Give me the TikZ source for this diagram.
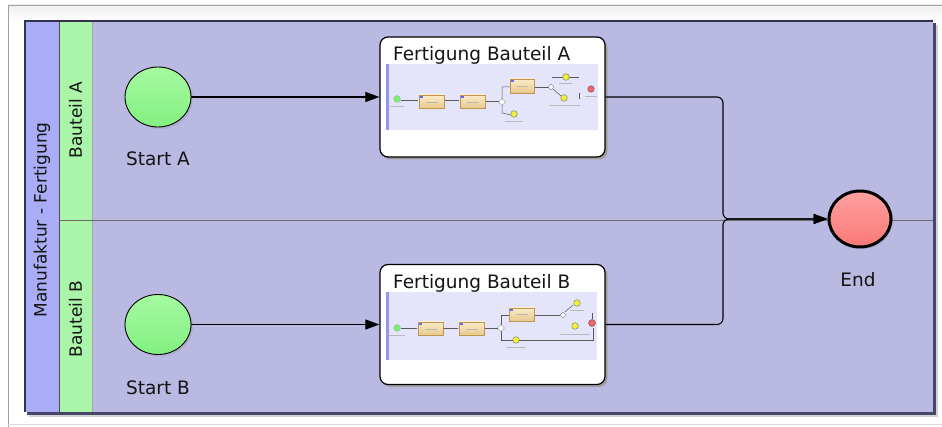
\documentclass[tikz,border=0pt]{standalone}
\usepackage{fontspec}
\setmainfont{DejaVu Sans}
\usetikzlibrary{arrows.meta,shapes.geometric,shadows}
\definecolor{poolband}{RGB}{170,172,245}
\definecolor{laneband}{RGB}{170,245,170}
\definecolor{mainfill}{RGB}{185,185,226}
\definecolor{poolline}{RGB}{50,50,80}
\definecolor{poolshadow}{RGB}{70,70,105}
\definecolor{startfillA}{RGB}{165,250,160}
\definecolor{startfillB}{RGB}{130,240,130}
\definecolor{endfillA}{RGB}{255,160,160}
\definecolor{endfillB}{RGB}{250,120,120}
\definecolor{thumbfill}{RGB}{228,228,250}
\definecolor{thumbstrip}{RGB}{150,150,235}
\definecolor{taskA}{RGB}{252,236,200}
\definecolor{taskB}{RGB}{232,200,140}
\definecolor{taskline}{RGB}{190,150,80}
\definecolor{tinyyellow}{RGB}{240,240,60}
\definecolor{tinyred}{RGB}{240,100,100}
\definecolor{tinygreen}{RGB}{120,235,120}
\begin{document}
\begin{tikzpicture}[x=1pt,y=-1pt,
  lbl/.style={font=\fontsize{18.5}{22}\selectfont, text=black!92, inner sep=0pt},
  lanelbl/.style={font=\fontsize{17}{20}\selectfont, text=black!92, inner sep=0pt, rotate=90},
  startev/.style={ellipse, draw=black, line width=0.9pt, minimum width=66pt, minimum height=60pt, inner sep=0pt,
    top color=startfillA, bottom color=startfillB,
    drop shadow={shadow xshift=2pt, shadow yshift=-2pt, opacity=0.18}},
  endev/.style={ellipse, draw=black, line width=3pt, minimum width=62pt, minimum height=56pt, inner sep=0pt,
    top color=endfillA, bottom color=endfillB,
    drop shadow={shadow xshift=2pt, shadow yshift=-2pt, opacity=0.18}},
  subproc/.style={rectangle, rounded corners=8pt, draw=black, line width=1.2pt, fill=white,
    minimum width=225pt, minimum height=120pt, inner sep=0pt,
    drop shadow={shadow xshift=2.5pt, shadow yshift=-2.5pt, fill=gray!75, opacity=1}},
  flow/.style={draw=black, line width=1.1pt, -{Triangle[length=14pt,width=10pt]}},
  ttask/.style={draw=taskline, line width=0.4pt, top color=taskA, bottom color=taskB},
  tline/.style={draw=gray!70!black, line width=0.5pt},
  tyellow/.style={fill=tinyyellow, draw=gray!60!black, line width=0.3pt},
  tred/.style={fill=tinyred, draw=gray!60!black, line width=0.3pt},
  tgreen/.style={fill=tinygreen, draw=gray!60, line width=0.3pt},
  tgate/.style={fill=white, draw=gray!60!black, line width=0.3pt},
  tlabel/.style={draw=gray!55, line width=0.6pt},
]
\useasboundingbox (0,0) rectangle (942,427);
% outer panel
\fill[white] (0,0) rectangle (942,427);
\shade[top color=gray!12, bottom color=white] (8,5) rectangle (942,22);
\draw[gray!75, line width=0.8pt] (8,427) -- (8,5) -- (942,5);
\draw[gray!30, line width=0.8pt] (8,424) -- (942,424);

% pool shadow and body
\fill[gray!35] (29,25) rectangle (938,417);
\fill[poolshadow] (27,23) rectangle (935.5,414.5);
\fill[mainfill] (25,21) rectangle (933,412);
\fill[poolband] (25,21) rectangle (59,412);
\fill[laneband] (59,21) rectangle (92,412);
\draw[gray!70, line width=0.6pt] (92,21) -- (92,412);
\draw[gray!60!black, line width=0.6pt] (59,21) -- (59,412);
\draw[gray!85!black, line width=0.8pt] (59,220) -- (933,220);
\draw[poolline, line width=1.6pt] (25,412) -- (25,21) -- (933,21);

% labels of pool and lanes
\node[lanelbl] (pool) at (42,220) {Manufaktur - Fertigung};
\node[lanelbl] (laneA) at (75.5,120) {Bauteil A};
\node[lanelbl] (laneB) at (75.5,319) {Bauteil B};

% events
\node[startev] (startA) at (158,97) {};
\node[lbl, anchor=base] (startAl) at (158,166) {Start A};
\node[startev] (startB) at (158,324.5) {};
\node[lbl, anchor=base] (startBl) at (158,394) {Start B};
\node[endev] (end) at (860,219) {};
\node[lbl, anchor=base] (endl) at (858,287) {End};

% sub-processes
\node[subproc] (boxA) at (492.5,97) {};
\node[lbl, anchor=base west] (titleA) at (393,61) {Fertigung Bauteil A};
\node[subproc] (boxB) at (492.5,324.5) {};
\node[lbl, anchor=base west] (titleB) at (393,289) {Fertigung Bauteil B};

% thumbnail A
\fill[thumbfill] (386,64) rectangle (598,130);
\fill[thumbstrip] (386,64) rectangle (389,130);
\draw[tline] (401,100) -- (418,100);
\draw[tline] (444,100) -- (459,100);
\draw[tline] (485,101) -- (499,101);
\draw[tline] (510,87) -- (502,87) -- (502,113) -- (511,115);
\draw[tline] (534,87) -- (549,87);
\draw[tline] (552,77) -- (579,77);
\draw[tline] (553,89) -- (561,96);
\draw[tline] (579,93) -- (579,99);
\draw[ttask] (419,95) rectangle (444,108);
\draw[ttask] (460,95) rectangle (485,108);
\draw[ttask] (510,79) rectangle (534,93);
\fill[blue!60] (420,96) rectangle (422.5,98);
\fill[blue!60] (461,96) rectangle (463.5,98);
\fill[blue!60] (511,80) rectangle (513.5,82);
\draw[tgate] (502,98.5) -- (505.5,102) -- (502,105.5) -- (498.5,102) -- cycle;
\draw[tgate] (551,84) -- (554,87) -- (551,90) -- (548,87) -- cycle;
\draw[tgreen] (397,99) circle (3.5pt);
\draw[tyellow] (566,77) circle (3.3pt);
\draw[tyellow] (564,98) circle (3.3pt);
\draw[tyellow] (514,114) circle (3.3pt);
\draw[tred] (591,89) circle (3.3pt);
\draw[tlabel] (390,106) -- (404,106);
\draw[tlabel] (426,102) -- (438,102);
\draw[tlabel] (467,102) -- (479,102);
\draw[tlabel] (517,86) -- (528,86);
\draw[tlabel] (559,83) -- (572,83);
\draw[tlabel] (550,105) -- (580,105);
\draw[tlabel] (505,121) -- (523,121);
\draw[tlabel] (585,96) -- (597,96);

% thumbnail B
\fill[thumbfill] (386,292) rectangle (597,360);
\fill[thumbstrip] (386,292) rectangle (389,360);
\draw[tline] (401,328) -- (417,328);
\draw[tline] (443,328) -- (458,328);
\draw[tline] (484,328) -- (498,328);
\draw[tline] (509,315) -- (501,315) -- (501,340) -- (593,340) -- (593,328);
\draw[tline] (534,315) -- (560,315);
\draw[tline] (565,312) -- (573,305);
\draw[tline] (592,313) -- (592,319);
\draw[ttask] (418,322) rectangle (443,335);
\draw[ttask] (459,322) rectangle (484,335);
\draw[ttask] (509,308) rectangle (534,321);
\fill[blue!60] (419,323) rectangle (421.5,325);
\fill[blue!60] (460,323) rectangle (462.5,325);
\fill[blue!60] (510,309) rectangle (512.5,311);
\draw[tgate] (501,324.5) -- (504.5,328) -- (501,331.5) -- (497.5,328) -- cycle;
\draw[tgate] (563,312) -- (566,315) -- (563,318) -- (560,315) -- cycle;
\draw[tgreen] (397,328) circle (3.5pt);
\draw[tyellow] (577,303) circle (3.3pt);
\draw[tyellow] (575,326) circle (3.3pt);
\draw[tyellow] (516,340) circle (3.3pt);
\draw[tred] (592,323) circle (3.5pt);
\draw[tlabel] (389,335) -- (405,335);
\draw[tlabel] (425,329) -- (437,329);
\draw[tlabel] (466,329) -- (478,329);
\draw[tlabel] (516,314) -- (528,314);
\draw[tlabel] (570,310) -- (584,310);
\draw[tlabel] (560,334) -- (590,334);
\draw[tlabel] (506,347) -- (526,347);

% connectors
\coordinate (jn) at (723,219);
\draw[flow] (startA.east) -- (boxA.west);
\draw[flow] (startB.east) -- (boxB.west);
\draw[flow, rounded corners=6pt] (boxA.east) -| (jn) -- (end.west);
\draw[flow, rounded corners=6pt] (boxB.east) -| (jn) -- (end.west);
\end{tikzpicture}
\end{document}
